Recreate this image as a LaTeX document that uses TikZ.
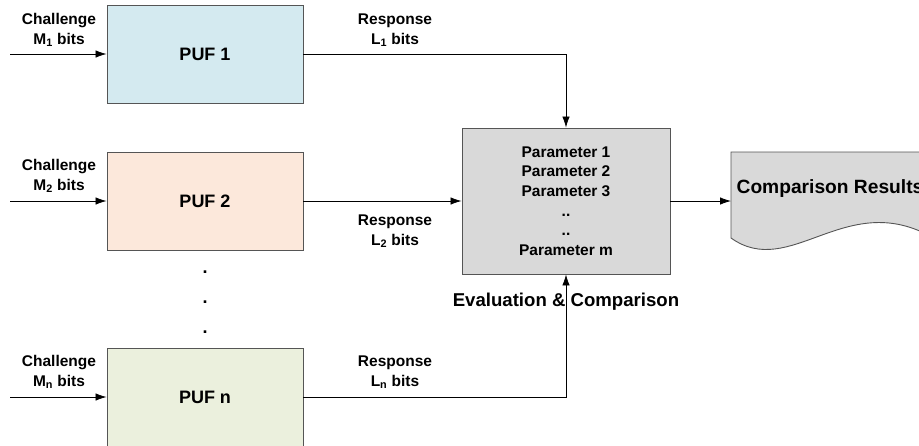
\documentclass[tikz,border=0pt]{standalone}
\usepackage{fontspec}
\setmainfont{Liberation Sans}
\usetikzlibrary{arrows.meta}
\definecolor{pufone}{HTML}{D4EAF0}
\definecolor{puftwo}{HTML}{FCE8DB}
\definecolor{pufn}{HTML}{EBF0DD}
\definecolor{grayfill}{HTML}{D9D9D9}
\definecolor{edge}{HTML}{555555}
\begin{document}
\begin{tikzpicture}[x=1pt,y=-1pt,
  pufbox/.style={draw=edge,line width=0.9pt,minimum width=196pt,minimum height=98pt,inner sep=0pt,font=\fontsize{18}{21}\selectfont\bfseries},
  lbl/.style={align=center,inner sep=0pt,font=\fontsize{15.5}{20}\selectfont\bfseries},
  arr/.style={line width=0.8pt,-{Latex[length=11pt,width=7.5pt]}},
  dotlbl/.style={inner sep=0pt,anchor=base,font=\fontsize{18}{20}\selectfont\bfseries}]
\useasboundingbox (0,0) rectangle (919,445);
\clip (0,0) rectangle (919,445);
% PUF boxes
\node[pufbox,fill=pufone] (puf1) at (205,54) {PUF 1};
\node[pufbox,fill=puftwo] (puf2) at (205,201) {PUF 2};
\node[pufbox,fill=pufn] (pufn) at (205,397) {PUF n};
% parameter box
\node[draw=edge,line width=0.9pt,fill=grayfill,minimum width=208pt,minimum height=146pt,inner sep=0pt,
      align=center,font=\fontsize{15.5}{19.6}\selectfont\bfseries] (param) at (566,201)
  {Parameter 1\\Parameter 2\\Parameter 3\\..\\..\\Parameter m};
% document shape
\draw[draw=edge,line width=0.9pt,fill=grayfill] (731,152) -- (935,152) -- (935,238) -- (930,236)
  .. controls (845,190) and (790,280) .. (731,238) -- cycle;
\coordinate (docin) at (731,201);
\node[inner sep=0pt,font=\fontsize{19.2}{22}\selectfont\bfseries] (res) at (830,189) {Comparison Results};
% input coordinates
\coordinate (in1) at (10,54);
\coordinate (in2) at (10,201);
\coordinate (inn) at (10,397);
% challenge labels
\node[lbl] (ch1) at (59,30) {Challenge\\M\textsubscript{1} bits};
\node[lbl] (ch2) at (59,176) {Challenge\\M\textsubscript{2} bits};
\node[lbl] (chn) at (59,372) {Challenge\\M\textsubscript{n} bits};
% response labels
\node[lbl] (re1) at (395,30) {Response\\L\textsubscript{1} bits};
\node[lbl] (re2) at (395,231) {Response\\L\textsubscript{2} bits};
\node[lbl] (ren) at (395,372) {Response\\L\textsubscript{n} bits};
% dots
\node[dotlbl] (d1) at (205,273) {.};
\node[dotlbl] (d2) at (205,303) {.};
\node[dotlbl] (d3) at (205,333) {.};
% evaluation label
\node[inner sep=0pt,font=\fontsize{18.6}{20}\selectfont\bfseries] (eval) at (566,302) {Evaluation \& Comparison};
% connectors
\draw[arr] (in1) -- (puf1.west);
\draw[arr] (in2) -- (puf2.west);
\draw[arr] (inn) -- (pufn.west);
\draw[arr] (puf1.east) -| (param.north);
\draw[arr] (puf2.east) -- (param.west);
\draw[arr] (pufn.east) -| (param.south);
\draw[arr] (param.east) -- (docin);
\end{tikzpicture}
\end{document}
